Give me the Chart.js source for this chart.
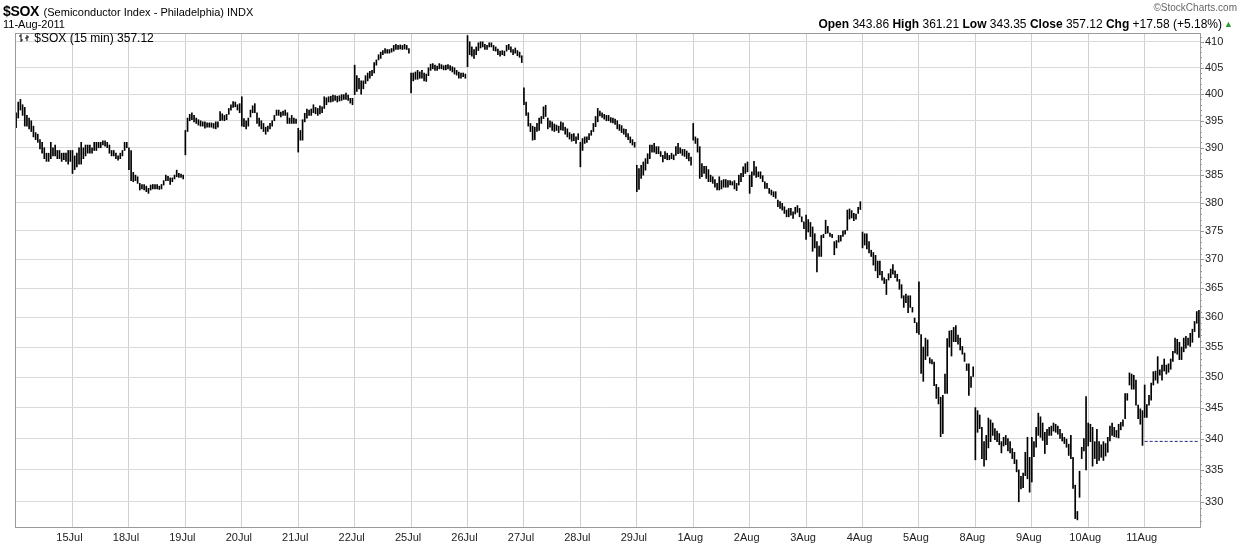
<!DOCTYPE html>
<html><head><meta charset="utf-8">
<script src="https://cdn.jsdelivr.net/npm/chart.js@4.4.1/dist/chart.umd.min.js"></script>
<style>
html,body{margin:0;padding:0;background:#fff;}
#wrap{position:relative;width:1240px;height:546px;font-family:"Liberation Sans",Arial,sans-serif;color:#000;overflow:hidden;}
canvas{position:absolute;left:0;top:0;}
.t{position:absolute;white-space:nowrap;line-height:1;}
</style></head><body>
<div id="wrap">
<canvas id="c" width="1240" height="546"></canvas>
<div class="t" style="left:3px;top:3px;"><b style="font-size:14px;letter-spacing:-0.3px">$SOX</b> <span style="font-size:11px">(Semiconductor Index - Philadelphia) INDX</span></div>
<div class="t" style="left:3px;top:19px;font-size:11px;">11-Aug-2011</div>
<div class="t" style="right:3px;top:3px;font-size:10px;color:#666;">©StockCharts.com</div>
<div class="t" style="right:18px;top:18px;font-size:12px;"><b>Open</b> 343.86 <b>High</b> 361.21 <b>Low</b> 343.35 <b>Close</b> 357.12 <b>Chg</b> +17.58 (+5.18%)</div>
<div class="t" style="right:7px;top:20px;font-size:9px;color:#2a9a2a;">▲</div>
<div class="t" style="left:19px;top:32px;font-size:12px;"><svg width="12" height="10" style="vertical-align:-1px"><path d="M2 1V9M0 3H2M2 7H4M8 2V8M6 5H8M8 4H10" stroke="#000" stroke-width="1" fill="none"/></svg> $SOX (15 min) 357.12</div>
</div>
<script>
// ---- tick labels / categories ----
const dayLabels = ['14Jul','15Jul','18Jul','19Jul','20Jul','21Jul','22Jul','25Jul','26Jul','27Jul','28Jul','29Jul','1Aug','2Aug','3Aug','4Aug','5Aug','8Aug','9Aug','10Aug','11Aug'];
const yTicks = [330,335,340,345,350,355,360,365,370,375,380,385,390,395,400,405,410];
const prevClose = 339.54;

// ---- 15-minute bars per day: [low, high] ----
const jul14 = [[393.7,396.5],[395.5,398.5],[397,399],[396,398],[394,397.5],[394,396],[393.5,395.5],[393,395],[392,394],[391.5,392.8],[391,392.5],[389.8,391.5],[389,391],[388,390],[387.5,389],[387.5,389],[388,391],[388.5,390],[388.5,390.5],[388,389.5],[388,389.5],[387.5,389],[387.8,389],[387.5,389],[387,389.5],[387.5,389.5]];
const jul15 = [[385.3,389.5],[386,388.5],[386.5,389],[387,390],[387,391],[388,390],[388.5,390.5],[389,390.5],[389,390.5],[389,390],[389.5,391],[389.5,391],[390,391],[390,391],[390.5,391.3],[390.3,391.3],[390,391],[389,390.5],[388.5,389.5],[388.5,389.5],[388,389],[387.7,388.5],[388,389],[388.5,389.5],[389.5,391],[390,391]];
const jul18 = [[386,390],[384,389.5],[383.8,385.5],[384,385],[383.5,384.7],[382.3,383.5],[382.5,383.3],[382.3,383.3],[382,383],[381.7,382.6],[382.3,383.2],[382.5,383.3],[382.5,383.3],[382.5,383.3],[382.4,383],[382.5,383.3],[383.2,384],[384,385],[384,384.8],[383.3,384.5],[383.8,384.5],[384.3,385],[384.7,385.9],[384.6,385.3],[384.6,385.2],[384.3,385]];
const jul19 = [[388.7,393.2],[393,395.5],[395,396.2],[395.2,396.5],[394.8,396],[394.5,395.5],[394.2,395.2],[394,395],[394,394.8],[393.6,394.8],[393.8,394.6],[393.8,394.6],[393.8,394.6],[393.6,394.5],[393.5,394.8],[393.8,394.8],[395,396.7],[395.1,396.3],[395,396],[395.2,396.2],[396.2,397.3],[397,398],[397.5,398.6],[397.6,398.5],[397,398],[396.5,398.2]];
const jul20 = [[394,399.5],[393.9,395.4],[393.5,395],[394,395.5],[395.7,397],[396.5,397.8],[396.5,398.2],[394.5,396.5],[394,395.5],[393.5,395],[393,394.5],[392.5,393.8],[393,394],[393.5,394.5],[394,395],[395,396],[396,397],[396,397],[395.7,396.6],[396,396.8],[396,397],[394.5,396.5],[394.5,395.5],[394.5,396],[394.5,395.5],[394.5,395.3]];
const jul21 = [[389.2,393.6],[391.4,393.2],[391.4,395.2],[394.8,396.4],[395.5,397.2],[396,397],[396,397.2],[396.5,398],[396.3,397.5],[396,397.3],[396.3,397.8],[396.5,397.6],[397.3,399.5],[398,399.3],[398.5,399.5],[398.5,399.6],[398.6,399.8],[398.8,399.7],[398.5,399.6],[398.7,399.7],[398.8,399.9],[399,399.9],[399,400.2],[398.8,399.8],[398.3,399.2],[398,399.2]];
const jul22 = [[399.9,405.5],[400.5,403.5],[401,403],[400,402.5],[401,402.5],[402,403.5],[402.5,404],[403,404.3],[403.5,404.5],[404,406],[405.5,406.5],[406.5,407.5],[406.8,408],[407.5,408.3],[407.8,408.7],[407.8,408.5],[407.8,408.5],[408,408.7],[408.2,409.3],[408.5,409.5],[408.5,409.3],[408.6,409.4],[408.5,409.3],[408.6,409.5],[408.5,409.3],[407.8,408.7]];
const jul25 = [[400.2,404],[402.5,404],[402.8,404.2],[402.8,404.5],[403,404.2],[403,404.5],[402.5,404],[402.4,403.8],[403.5,405],[404.5,405.7],[404.8,405.8],[404.5,405.5],[404.5,405.3],[404.8,405.8],[404.8,405.6],[404.6,405.4],[404.6,405.5],[404.8,405.6],[404.5,405.4],[404.2,405.2],[403.8,405],[403.6,404.5],[403,404.2],[403,404],[403.3,404],[403,403.8]];
const jul26 = [[405.2,411.2],[407.5,410],[407.2,409],[406.8,408.5],[407.5,409],[408.3,409.8],[408.8,410],[409,410],[408.5,409.5],[408.5,409.3],[409,409.8],[409,409.8],[408.3,409.3],[408.2,409],[407.5,408.6],[407.2,408.2],[407.5,408.3],[407.3,408.2],[408.2,409.3],[408.5,409.5],[408,409],[407.5,408.5],[407.8,408.8],[407.3,408.3],[407,408],[406,407.3]];
const jul27 = [[398,401.2],[396,398.5],[394,396.5],[393,394.5],[391.4,394],[391.5,393.8],[393,394.5],[393.2,395.5],[394.5,395.8],[395.4,397.6],[395.8,397.9],[393.5,395.5],[393.8,395],[393.2,394.8],[393,394.4],[393.2,394.2],[392.8,394],[393.3,394.8],[393.2,394.6],[392.5,393.8],[392,393.5],[391.6,392.8],[391.2,392.5],[391.3,392.6],[390.8,392],[391.5,392.6]];
const jul28 = [[386.5,391],[389.5,391.7],[390.8,392],[391,392],[391.5,392.6],[392.3,393.2],[393,394.5],[393.9,395.8],[394.8,397.3],[395.9,396.8],[395.6,396.5],[395.3,396.2],[395,396],[395,396],[394.7,395.6],[394.6,395.5],[394.3,395.3],[393.5,395],[393.2,394.3],[392.8,394.1],[392.5,393.5],[392,393.4],[391.5,392.6],[390.9,392],[390.5,391.5],[390.1,391]];
const jul29 = [[382,386.8],[382.4,386.2],[384.4,386.8],[385,387.4],[385.9,388],[387.1,388.9],[388,390.5],[389.2,390.5],[389.2,390.8],[388.9,390.2],[388.9,390.2],[388.4,389.3],[387.4,388.6],[388,389.3],[387.8,389],[387.8,388.6],[388,389],[387.8,388.7],[388.6,390.2],[388.9,390.8],[389,390],[388.6,389.7],[388.4,389.7],[388,389.4],[387.6,389],[386.8,388.3]];
const aug1 = [[391.4,394.5],[390.8,392],[389.2,391.7],[384.4,390.2],[384.7,387.1],[385.3,386.6],[384.4,386.6],[383.8,386],[383.8,385],[383.5,384.7],[382.8,384.2],[382.3,383.5],[382.3,384.7],[382.5,384],[382.8,384.2],[382.8,384.2],[382.8,384],[383.2,384],[383.2,383.8],[382.5,384],[382.2,383.5],[383.2,385],[383.8,385.3],[384.7,386.5],[385.3,387.1],[385.6,387.4]];
const aug2 = [[381.7,385],[382.9,385.6],[385,387.5],[384.6,386.5],[384.7,385.6],[384.4,385.6],[383.8,384.9],[382.6,383.8],[382.6,383.5],[381.7,382.6],[381.4,382.3],[381.1,382],[380.8,382],[379.3,380.5],[379,380.2],[378.7,379.9],[378.1,379.3],[377.5,378.7],[377.5,379],[377.8,379],[377.2,378.4],[378,379.2],[378.3,379.5],[377.5,379],[376.6,377.5],[375.4,376.6]];
const aug3 = [[373.5,377.8],[374.8,377],[374,376.5],[371.4,375.7],[372,374.5],[367.8,373.1],[370.5,372.3],[370.5,374.2],[373.8,374.4],[374.5,376.9],[374.6,375.8],[374,374.6],[373.8,374.4],[370.8,373.1],[372,373.3],[373,374.2],[373.2,374.2],[374,375],[374.4,375.1],[375.1,378.7],[377.1,378.9],[377.3,378.6],[376.8,378.1],[377.1,378],[378.1,379.2],[378.8,380.2]];
const aug4 = [[372,374.8],[372.5,374.5],[371.8,374.5],[371.1,373.1],[370.5,371.6],[369,371.2],[368,370.7],[366.8,369.7],[367.3,369.7],[366.4,367.9],[365.8,366.8],[363.9,366.5],[366.4,367.5],[366.8,368.3],[367.4,369.1],[366.8,368],[366.2,367.4],[364.8,366.5],[363.3,365.6],[361.7,363.7],[362.5,364],[360.8,363.7],[361.7,363.7],[360.9,361.7],[359.1,359.9],[357.4,359.1]];
const aug5 = [[357.1,366.1],[350.6,357.1],[349.3,355],[352.9,356.5],[353.5,356.2],[352.3,353.2],[352.2,352.9],[348.6,352.5],[346.5,348.8],[345.6,348.3],[340.3,346.7],[340.8,347],[347.3,350.5],[347.3,356.4],[355,357.7],[353.5,357.8],[355.9,358.3],[355.9,358.6],[355.5,357],[354.5,356.5],[353.8,355.1],[352.6,354],[351.1,352.2],[347,352.2],[348.3,350.1],[350.1,351.7]];
const aug8 = [[336.6,345],[341,344.5],[341.6,343.8],[336.8,341.8],[335.6,339.5],[336.6,340.5],[338.5,343.3],[339.5,343],[340.5,342.5],[339.8,341.6],[339.5,341.2],[339,340.8],[337.7,339.5],[338.8,340.2],[339,340.5],[338,340],[337.7,339.5],[336.8,338.4],[336,337.8],[334.7,336.6],[330,335],[332,334],[332.2,334.5],[334.1,337.8],[333.6,340.2],[331.5,337]];
const aug9 = [[333.1,340.2],[337.1,339.5],[338.6,341.8],[340.5,344.1],[340.2,343.5],[339.7,342.5],[337.6,341],[339,341.5],[340.5,341.8],[340.5,342],[341.2,342.5],[341,342.3],[340.7,342],[340,341.5],[339.6,340.8],[339.2,340.2],[338.6,339.9],[337.3,339.1],[336.8,340.5],[332.1,337],[327.4,332.6],[327.2,328.5],[330.7,334.8],[336.8,338.6],[338,340],[335,346.8]];
const aug10 = [[338.8,342.5],[339.5,342.3],[335.6,341.8],[336.8,339.5],[336,341.5],[336.5,339.5],[337,339],[336.5,339.5],[337.2,339.2],[337.8,340.2],[339.6,342],[340.5,342.5],[340.3,341.8],[340.2,341.3],[340.1,342.3],[341.4,342.6],[342,343],[343.2,347.3],[346.2,347.3],[348.7,350.7],[348,350.5],[348,350.3],[345.4,349.5],[343.2,345.4],[342.3,344.8],[338.9,344.5]];
const aug11 = [[343.4,348.7],[343.4,345.5],[345.4,347],[346.2,349],[348.7,350.9],[349.5,351],[349,353.4],[350.3,351.2],[349.5,352],[351,353],[350.5,352],[350.8,352.2],[351.3,353],[352.6,354.3],[354,356.5],[353.8,356.3],[352.9,355.8],[352.9,355],[354.2,356.5],[354.8,356.8],[355.3,356.5],[355.1,357.3],[355.8,358],[357.6,359.3],[359,361],[356.6,361.2]];

const days = [jul14,jul15,jul18,jul19,jul20,jul21,jul22,jul25,jul26,jul27,jul28,jul29,aug1,aug2,aug3,aug4,aug5,aug8,aug9,aug10,aug11];

// ---- build the table the library needs ----
const bars = [], labels = [], dayStart = [];
days.forEach((d, di) => {
  dayStart.push(bars.length);
  d.forEach((b, bi) => { bars.push(b); labels.push(dayLabels[di] + ' #' + bi); });
});
const lastStart = dayStart[dayStart.length - 1];
const prevLine = bars.map((b, i) => i >= lastStart ? prevClose : null);

const framePlugin = {
  id: 'frame',
  afterDraw(chart) {
    const {ctx, chartArea: a, scales} = chart;
    ctx.save();
    ctx.strokeStyle = '#9a9a9a'; ctx.lineWidth = 1;
    ctx.strokeRect(Math.round(a.left) + 0.5, Math.round(a.top) + 0.5, Math.round(a.right - a.left), Math.round(a.bottom - a.top));
    const y = scales.y;
    ctx.strokeStyle = '#999';
    for (let v = 327; v <= 411; v++) {
      const py = Math.round(y.getPixelForValue(v)) + 0.5;
      const len = v % 5 === 0 ? 4 : 2;
      ctx.beginPath(); ctx.moveTo(a.right, py); ctx.lineTo(a.right + len, py); ctx.stroke();
    }
    ctx.restore();
  }
};

new Chart(document.getElementById('c'), {
  type: 'bar',
  data: {
    labels: labels,
    datasets: [
      { type: 'line', label: 'Prev close', data: prevLine, borderColor: '#1b1b7a', borderWidth: 1, borderDash: [3, 2], pointRadius: 0, spanGaps: false, order: 0 },
      { type: 'bar', label: '$SOX (15 min)', data: bars, backgroundColor: '#000', borderWidth: 0, barThickness: 1, borderSkipped: false, order: 1 }
    ]
  },
  options: {
    responsive: false,
    devicePixelRatio: 1,
    animation: false,
    layout: { padding: { left: 15, top: 33, right: 0, bottom: 0 } },
    plugins: { legend: { display: false }, tooltip: { enabled: false } },
    scales: {
      x: {
        type: 'category',
        offset: true,
        afterBuildTicks: s => { s.ticks = dayStart.slice(1).map(v => ({ value: v })); },
        afterFit: s => { s.height = 19; },
        grid: { offset: false, color: '#d0d0d0', drawTicks: false },
        border: { display: false },
        ticks: {
          autoSkip: false, maxRotation: 0, padding: 4, labelOffset: -3,
          color: '#222', font: { family: 'Liberation Sans, Arial, sans-serif', size: 11 },
          callback: v => { const di = dayStart.indexOf(v); return di > 0 ? dayLabels[di] : ''; }
        }
      },
      y: {
        type: 'logarithmic',
        position: 'right',
        min: 326.1, max: 411.7,
        afterBuildTicks: s => { s.ticks = yTicks.map(v => ({ value: v })); },
        afterFit: s => { s.width = 40; },
        grid: { color: '#dadada', drawTicks: false },
        border: { display: false },
        ticks: {
          padding: 5, color: '#222',
          font: { family: 'Liberation Sans, Arial, sans-serif', size: 11 },
          callback: v => String(v)
        }
      }
    }
  },
  plugins: [framePlugin]
});
</script>
</body></html>
